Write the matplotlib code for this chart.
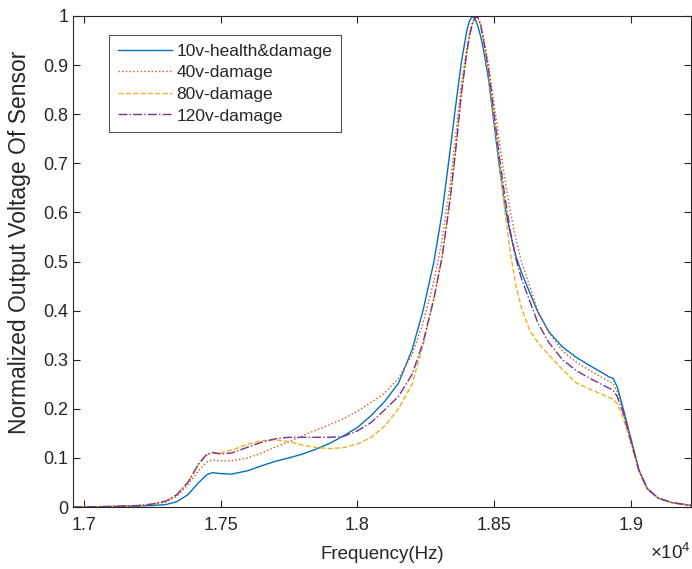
import matplotlib
matplotlib.use('Agg')
import matplotlib.pyplot as plt
from matplotlib.ticker import FuncFormatter

plt.rcParams['font.family'] = ['Liberation Sans', 'DejaVu Sans']
plt.rcParams['mathtext.fontset'] = 'custom'
plt.rcParams['mathtext.rm'] = 'Liberation Sans'
plt.rcParams['mathtext.it'] = 'Liberation Sans'

# Frequency grid (Hz)
freq = [16960, 17100, 17200, 17250, 17300, 17340, 17380, 17420, 17450, 17470,
        17500, 17540, 17600, 17650, 17700, 17750, 17800, 17850, 17900, 17950,
        18000, 18050, 18100, 18150, 18200, 18240, 18280, 18310, 18340, 18360,
        18380, 18400, 18410, 18420, 18430, 18440, 18450, 18460, 18480, 18500,
        18520, 18540, 18560, 18580, 18600, 18630, 18660, 18700, 18750, 18800,
        18850, 18900, 18920, 18935, 18950, 18970, 19000, 19030, 19060, 19100,
        19150, 19220]

v10 = [0.000, 0.001, 0.002, 0.003, 0.005, 0.011, 0.025, 0.050, 0.066, 0.070,
       0.068, 0.067, 0.074, 0.084, 0.093, 0.100, 0.108, 0.118, 0.130, 0.145,
       0.162, 0.186, 0.215, 0.252, 0.320, 0.400, 0.500, 0.600, 0.730, 0.820,
       0.905, 0.970, 0.990, 0.999, 0.995, 0.980, 0.960, 0.935, 0.870, 0.780,
       0.690, 0.610, 0.555, 0.510, 0.478, 0.437, 0.397, 0.357, 0.326, 0.305,
       0.288, 0.272, 0.265, 0.262, 0.245, 0.205, 0.140, 0.075, 0.038, 0.018,
       0.009, 0.003]

v40 = [0.000, 0.001, 0.003, 0.005, 0.010, 0.022, 0.045, 0.075, 0.092, 0.096,
       0.094, 0.094, 0.100, 0.110, 0.122, 0.133, 0.145, 0.157, 0.168, 0.180,
       0.195, 0.213, 0.232, 0.262, 0.310, 0.375, 0.460, 0.545, 0.660, 0.760,
       0.860, 0.935, 0.965, 0.985, 0.997, 0.998, 0.985, 0.960, 0.900, 0.820,
       0.740, 0.665, 0.600, 0.545, 0.500, 0.450, 0.400, 0.355, 0.318, 0.295,
       0.278, 0.262, 0.256, 0.252, 0.235, 0.200, 0.138, 0.074, 0.037, 0.018,
       0.009, 0.003]

v80 = [0.000, 0.001, 0.003, 0.006, 0.012, 0.025, 0.050, 0.088, 0.106, 0.110,
       0.110, 0.116, 0.128, 0.135, 0.137, 0.133, 0.126, 0.121, 0.119, 0.121,
       0.128, 0.142, 0.165, 0.200, 0.250, 0.330, 0.425, 0.510, 0.630, 0.730,
       0.840, 0.925, 0.960, 0.983, 0.997, 0.998, 0.982, 0.950, 0.880, 0.790,
       0.700, 0.600, 0.515, 0.450, 0.405, 0.360, 0.335, 0.310, 0.280, 0.253,
       0.240, 0.228, 0.223, 0.220, 0.210, 0.185, 0.130, 0.072, 0.036, 0.018,
       0.009, 0.003]

v120 = [0.000, 0.001, 0.003, 0.006, 0.012, 0.025, 0.050, 0.088, 0.108, 0.111,
        0.108, 0.110, 0.122, 0.132, 0.139, 0.142, 0.142, 0.142, 0.142, 0.144,
        0.155, 0.172, 0.198, 0.225, 0.270, 0.335, 0.425, 0.510, 0.630, 0.730,
        0.840, 0.925, 0.960, 0.983, 0.997, 0.998, 0.984, 0.955, 0.890, 0.800,
        0.710, 0.630, 0.560, 0.505, 0.465, 0.420, 0.375, 0.335, 0.300, 0.278,
        0.262, 0.248, 0.242, 0.238, 0.225, 0.195, 0.135, 0.073, 0.037, 0.018,
        0.009, 0.003]

labels = ['10v-health&damage', '40v-damage', '80v-damage', '120v-damage']
xticks = [17000, 17500, 18000, 18500, 19000]
yticks = [0, 0.1, 0.2, 0.3, 0.4, 0.5, 0.6, 0.7, 0.8, 0.9, 1]

axcol = (0.15, 0.15, 0.15)

fig = plt.figure(figsize=(6.92, 5.69), dpi=100)
ax = fig.add_axes([73 / 692, 62 / 569, 618 / 692, 491 / 569])

ax.plot(freq, v10, color=(0, 0.447, 0.741), lw=1.0, ls='-', label=labels[0])
ax.plot(freq, v40, color=(0.85, 0.325, 0.098), lw=1.0, ls=':', label=labels[1])
ax.plot(freq, v80, color=(0.929, 0.694, 0.125), lw=1.0, ls='--', label=labels[2])
ax.plot(freq, v120, color=(0.494, 0.184, 0.556), lw=1.0, ls='-.', label=labels[3])

ax.set_xlim(16960, 19220)
ax.set_ylim(0, 1)
ax.set_xticks(xticks)
ax.set_yticks(yticks)
ax.xaxis.set_major_formatter(FuncFormatter(lambda v, p: ('%g' % (v / 1e4))))
ax.yaxis.set_major_formatter(FuncFormatter(lambda v, p: ('%g' % v)))
ax.tick_params(direction='in', length=5, width=0.8, colors=axcol,
               labelsize=13, top=True, right=True, labeltop=False, labelright=False)
ax.tick_params(axis='x', pad=7)
for s in ax.spines.values():
    s.set_color(axcol)
    s.set_linewidth(0.8)

ax.set_xlabel('Frequency(Hz)', fontsize=13.5, color=axcol, labelpad=9)
ax.set_ylabel('Normalized Output Voltage Of Sensor', fontsize=16.5, color=axcol)
ax.yaxis.set_label_coords(-42 / 618, 0.54)
fig.text(691 / 692, (569 - 553) / 569, r'$\times10^{4}$', fontsize=13.5,
         color=axcol, ha='right', va='center')

leg = ax.legend(loc='upper left', bbox_to_anchor=(36 / 618, 1 - 19 / 491),
                fontsize=12.5, handlelength=3.1, handletextpad=0.3,
                labelspacing=0.37, borderpad=0.5, borderaxespad=0,
                frameon=True, fancybox=False)
leg.get_frame().set_edgecolor(axcol)
leg.get_frame().set_linewidth(0.8)
for t in leg.get_texts():
    t.set_color(axcol)

fig.savefig('out.png', dpi=100)
